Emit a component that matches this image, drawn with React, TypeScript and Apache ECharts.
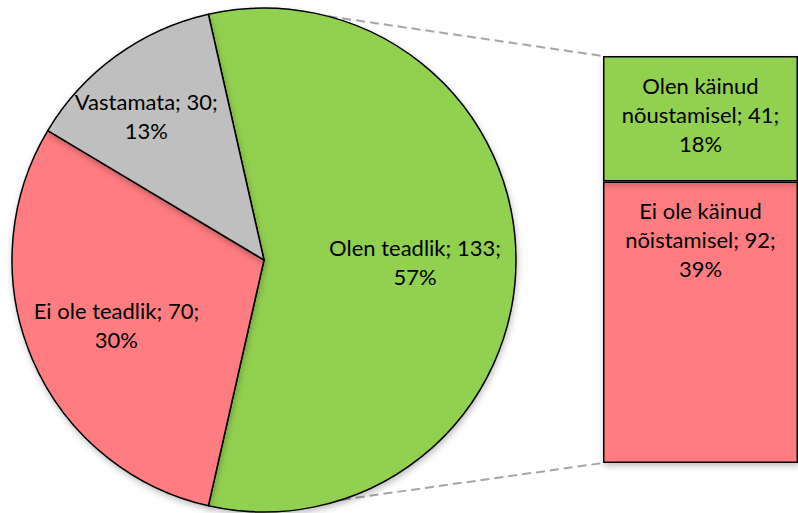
import React, { useEffect, useRef } from "react";
import * as echarts from "echarts";

// ---- data ----
const pieNames = ["Olen teadlik", "Ei ole teadlik", "Vastamata"];
const pieValues = [133, 70, 30];
const barNames = ["Olen käinud nõustamisel", "Ei ole käinud nõistamisel"];
const barValues = [41, 92];

// ---- styles / layout ----
const GREEN = "#92d050";
const RED = "#ff7c80";
const GRAY = "#bfbfbf";
const PIE_COLORS = [GREEN, RED, GRAY];
const BAR_COLORS = [GREEN, RED];
const FONT = "Lato";
const FS = 22;
const LH = 29;
const CX = 264;
const CY = 260;
const R = 252;
const GRID_LEFT = 603;
const GRID_TOP = 56;
const GRID_W = 202;
const GRID_H = 407;
const LABEL_NUDGE = [
  [22, 2],
  [-29, 14],
  [-42, -40],
];

const total = pieValues.reduce((a, b) => a + b, 0);
const barTotal = barValues.reduce((a, b) => a + b, 0);

function wrapName(n: string) {
  const i = n.lastIndexOf(" ");
  return n.slice(0, i) + "\n" + n.slice(i + 1);
}

function circlePt(degFromTop: number) {
  const a = (degFromTop * Math.PI) / 180;
  return [CX + R * Math.sin(a), CY - R * Math.cos(a)];
}

export default function App() {
  const ref = useRef<HTMLDivElement>(null);
  useEffect(() => {
    if (!ref.current) return;
    const chart = echarts.init(ref.current, null, { renderer: "svg" });
    // green slice centred on 3 o'clock
    const startAngle = ((pieValues[0] / total) * 360) / 2;
    const p1 = circlePt(14.8);
    const p2 = circlePt(162);
    const textStyle = {
      fontFamily: FONT,
      fontSize: FS,
      lineHeight: LH,
      color: "#000",
    };
    const barSeriesOrder = [1, 0]; // red at bottom, green on top
    const option: any = {
      animation: false,
      backgroundColor: "#fff",
      grid: {
        left: GRID_LEFT,
        top: GRID_TOP,
        width: GRID_W,
        height: GRID_H,
        containLabel: false,
      },
      xAxis: { type: "category", data: [""], show: false },
      yAxis: { type: "value", min: 0, max: barTotal, show: false },
      graphic: [
        {
          type: "line",
          z: 0,
          shape: { x1: p1[0], y1: p1[1], x2: GRID_LEFT, y2: GRID_TOP },
          style: { stroke: "#a6a6a6", lineWidth: 2, lineDash: [9, 5] },
        },
        {
          type: "line",
          z: 0,
          shape: { x1: p2[0], y1: p2[1], x2: GRID_LEFT, y2: GRID_TOP + GRID_H },
          style: { stroke: "#a6a6a6", lineWidth: 2, lineDash: [9, 5] },
        },
      ],
      series: [
        {
          type: "pie",
          center: [CX, CY],
          radius: R,
          startAngle,
          clockwise: true,
          percentPrecision: 0,
          emphasis: { disabled: true },
          itemStyle: {
            borderColor: "#000",
            borderWidth: 1.5,
            shadowBlur: 6,
            shadowOffsetX: 1,
            shadowOffsetY: 3,
            shadowColor: "rgba(0,0,0,0.25)",
          },
          label: {
            show: true,
            position: "inside",
            formatter: "{b}; {c};\n{d}%",
            ...textStyle,
          },
          labelLine: { show: false },
          labelLayout: (params: any) => ({
            dx: LABEL_NUDGE[params.dataIndex][0],
            dy: LABEL_NUDGE[params.dataIndex][1],
          }),
          data: pieNames.map((n, i) => ({
            name: n,
            value: pieValues[i],
            itemStyle: { color: PIE_COLORS[i] },
          })),
        },
        ...barSeriesOrder.map((i) => ({
          type: "bar",
          name: barNames[i],
          stack: "b",
          barWidth: "100%",
          barCategoryGap: 0,
          emphasis: { disabled: true },
          itemStyle: {
            color: BAR_COLORS[i],
            borderColor: "#000",
            borderWidth: 1.5,
            shadowBlur: 6,
            shadowOffsetX: 1,
            shadowOffsetY: 3,
            shadowColor: "rgba(0,0,0,0.25)",
          },
          label: {
            show: true,
            position: i === 0 ? "inside" : "insideTop",
            distance: 15,
            offset: i === 0 ? [0, -4] : [0, 0],
            formatter: (p: any) =>
              wrapName(p.seriesName) +
              "; " +
              p.value +
              ";\n" +
              Math.round((p.value / total) * 100) +
              "%",
            ...textStyle,
          },
          data: [barValues[i]],
        })),
      ],
    };
    chart.setOption(option);
    return () => chart.dispose();
  }, []);
  return (
    <div
      ref={ref}
      style={{ position: "absolute", left: 0, top: 0, width: 798, height: 513 }}
    />
  );
}
